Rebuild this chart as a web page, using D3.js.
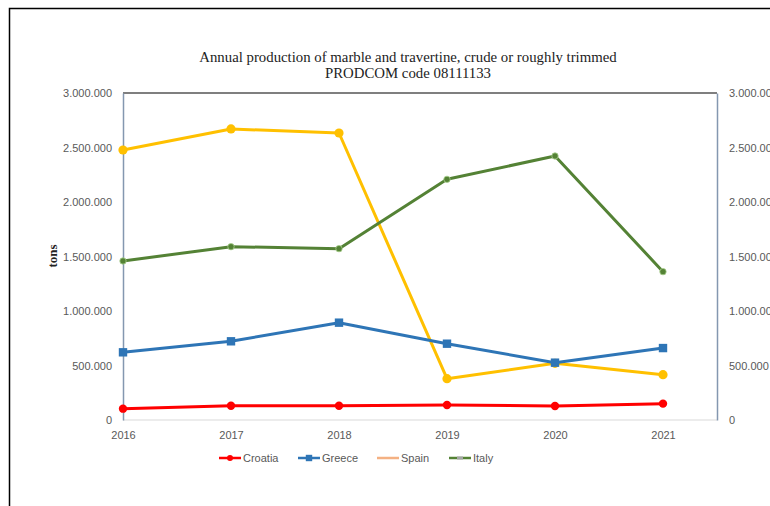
<!DOCTYPE html>
<html>
<head>
<meta charset="utf-8">
<script src="https://cdn.jsdelivr.net/npm/d3@7"></script>
<style>
  html, body { margin: 0; padding: 0; background: #fff; }
  svg { display: block; }
</style>
</head>
<body>
<svg id="chart" width="770" height="506"></svg>
<script>
const years = [2016, 2017, 2018, 2019, 2020, 2021];
const croatia = [104000, 131000, 131000, 138000, 128000, 150000];
const greece  = [621000, 722000, 893000, 700000, 526000, 660000];
const spain   = [2477000, 2670000, 2633000, 379000, 520000, 416000];
const italy   = [1459000, 1590000, 1572000, 2208000, 2422000, 1361000];
const yTicks  = [0, 500000, 1000000, 1500000, 2000000, 2500000, 3000000];
const titleLines = ["Annual production of marble and travertine, crude or roughly trimmed", "PRODCOM code 08111133"];
const yLabel = "tons";

(function () {
const series = [
  { name: "Croatia", values: croatia, color: "#FF0000", marker: "circle", r: 4.2, legendColor: "#FF0000", legendMarker: "circle" },
  { name: "Greece",  values: greece,  color: "#2E75B6", marker: "square", r: 4.2, legendColor: "#2E75B6", legendMarker: "square" },
  { name: "Spain",   values: spain,   color: "#FFC000", marker: "circle", r: 4.6, legendColor: "#F4B183", legendMarker: "none" },
  { name: "Italy",   values: italy,   color: "#548235", marker: "smallcircle", r: 3.2, legendColor: "#548235", legendMarker: "gray" }
];

const svg = d3.select("#chart");
const fmt = v => d3.format(",")(v).replace(/,/g, ".");

svg.append("rect").attr("x", 9.5).attr("y", 8.5).attr("width", 800).attr("height", 600)
  .attr("fill", "none").attr("stroke", "#000").attr("stroke-width", 1.5);

const pL = 123, pR = 717, pT = 93, pB = 420;
const x = d3.scaleLinear().domain([2016, 2021.5]).range([pL, pR]);
const y = d3.scaleLinear().domain([0, 3000000]).range([pB, pT]);

const title = svg.append("text").attr("text-anchor", "middle")
  .attr("font-family", "'Liberation Serif', 'DejaVu Serif', serif").attr("font-size", 14.8).attr("fill", "#222");
titleLines.forEach((t, i) => title.append("tspan").attr("x", 408).attr("y", 62 + i * 16).text(t));

svg.append("line").attr("x1", pL).attr("x2", pR).attr("y1", pT).attr("y2", pT)
  .attr("stroke", "#000").attr("stroke-width", 1.2);
svg.append("line").attr("x1", pL).attr("x2", pR).attr("y1", pB).attr("y2", pB)
  .attr("stroke", "#D9D9D9").attr("stroke-width", 1.2);

const tickFont = "'Liberation Sans', Arial, sans-serif";
const yAxisL = d3.axisLeft(y).tickValues(yTicks).tickFormat(fmt).tickSize(0).tickPadding(11);
const gL = svg.append("g").attr("transform", `translate(${pL},0)`).call(yAxisL);
gL.select(".domain").attr("stroke", "#8497B0").attr("stroke-width", 1.5);
gL.selectAll("text").attr("font-family", tickFont).attr("font-size", 11).attr("fill", "#595959");

const yAxisR = d3.axisRight(y).tickValues(yTicks).tickFormat(fmt).tickSize(0).tickPadding(12);
const gR = svg.append("g").attr("transform", `translate(${pR},0)`).call(yAxisR);
gR.select(".domain").attr("stroke", "#8497B0").attr("stroke-width", 1.5);
gR.selectAll("text").attr("font-family", tickFont).attr("font-size", 11).attr("fill", "#595959");

const xAxis = d3.axisBottom(x).tickValues(years).tickFormat(d3.format("d")).tickSize(0).tickPadding(11);
const gX = svg.append("g").attr("transform", `translate(0,${pB})`).call(xAxis);
gX.select(".domain").remove();
gX.selectAll("text").attr("font-family", tickFont).attr("font-size", 11).attr("fill", "#595959");

svg.append("text").attr("transform", "translate(57,256) rotate(-90)").attr("text-anchor", "middle")
  .attr("font-family", "'Liberation Serif', serif").attr("font-weight", "bold").attr("font-size", 13)
  .attr("fill", "#222").text(yLabel);

const line = d3.line().x((d, i) => x(years[i])).y(d => y(d));
function drawMarker(g, kind, cx, cy, color, r) {
  if (kind === "circle") {
    g.append("circle").attr("cx", cx).attr("cy", cy).attr("r", r).attr("fill", color);
  } else if (kind === "square") {
    g.append("rect").attr("x", cx - r).attr("y", cy - r).attr("width", 2 * r).attr("height", 2 * r).attr("fill", color);
  } else if (kind === "smallcircle") {
    g.append("circle").attr("cx", cx).attr("cy", cy).attr("r", r).attr("fill", color)
      .attr("stroke", "#A9D18E").attr("stroke-width", 0.8);
  } else if (kind === "gray") {
    g.append("rect").attr("x", cx - 3).attr("y", cy - 1.5).attr("width", 6).attr("height", 3).attr("fill", "#A5A5A5");
  }
}
const drawOrder = [series[2], series[3], series[1], series[0]];
drawOrder.forEach(s => {
  const g = svg.append("g");
  g.append("path").datum(s.values).attr("d", line).attr("fill", "none")
    .attr("stroke", s.color).attr("stroke-width", 3).attr("stroke-linejoin", "round");
  s.values.forEach((v, i) => drawMarker(g, s.marker, x(years[i]), y(v), s.color, s.r));
});

const legendX = [219, 298, 377, 449];
series.forEach((s, i) => {
  const g = svg.append("g");
  const lx = legendX[i], ly = 458;
  g.append("line").attr("x1", lx).attr("x2", lx + 22).attr("y1", ly).attr("y2", ly)
    .attr("stroke", s.legendColor).attr("stroke-width", 2.5);
  if (s.legendMarker === "circle") drawMarker(g, "circle", lx + 11, ly, s.legendColor, 3);
  if (s.legendMarker === "square") drawMarker(g, "square", lx + 11, ly, s.legendColor, 3.2);
  if (s.legendMarker === "gray") drawMarker(g, "gray", lx + 11, ly, null, 0);
  g.append("text").attr("x", lx + 24).attr("y", ly + 4).attr("font-family", tickFont)
    .attr("font-size", 11).attr("fill", "#595959").text(s.name);
});
})();
</script>
</body>
</html>
